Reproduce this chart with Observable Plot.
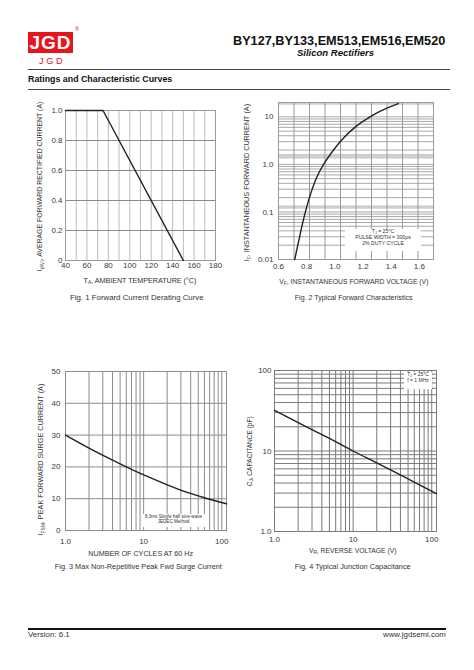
<!DOCTYPE html>
<html><head><meta charset="utf-8">
<script src="https://cdn.jsdelivr.net/npm/d3@7"></script>
<script src="https://cdn.jsdelivr.net/npm/@observablehq/plot@0.6"></script>
<style>
body{margin:0;background:#fff;font-family:"Liberation Sans",Arial,Helvetica,sans-serif;color:#222}
#page{position:relative;width:474px;height:670px;overflow:hidden;background:#fff}
.t{position:absolute;white-space:nowrap;line-height:1;color:#333}
.s{font-size:0.68em;vertical-align:-0.3em;line-height:0}
.box{position:absolute;background:#fff;text-align:center;color:#333;line-height:1.15}
.rule{position:absolute}
</style></head><body><div id="page"></div>
<script>
// ---- data ----
const fig1Temp = [40, 75, 150];
const fig1Current = [1.0, 1.0, 0];
const fig1XTicks = [40, 60, 80, 100, 120, 140, 160, 180];
const fig1YTicks = [0, 0.2, 0.4, 0.6, 0.8, 1.0];

const fig2Voltage = [0.715, 0.74, 0.77, 0.80, 0.83, 0.87, 0.92, 0.98, 1.05, 1.15, 1.25, 1.33, 1.45];
const fig2Current = [0.01, 0.022, 0.056, 0.126, 0.25, 0.525, 1.0, 1.82, 3.3, 6.3, 10, 13.5, 19];
const fig2XTicks = [0.6, 0.8, 1.0, 1.2, 1.4, 1.6];
const fig2YTicks = [0.01, 0.1, 1, 10];
const fig2Bands = [[17.5, 20], [1.29, 1.62], [0.114, 0.134]];

const fig3Cycles = [1, 2, 3.5, 7, 10, 18, 33, 60, 115];
const fig3Surge = [30, 25.9, 22.8, 19.2, 17.5, 14.8, 12.3, 10.3, 8.4];
const fig3XTicks = [1, 10, 100];
const fig3YTicks = [0, 10, 20, 30, 40, 50];

const fig4Voltage = [1, 2, 5, 10, 20, 50, 115];
const fig4Cap = [32, 22.5, 14.3, 10, 7.1, 4.5, 2.95];
const fig4XTicks = [1, 10, 100];
const fig4YTicks = [1, 10, 100];

// ---- helpers ----
const page = document.getElementById("page");
const FONT = '"Liberation Sans",Arial,Helvetica,sans-serif';
function logGrid(lo, hi) {
  const out = [];
  for (let p = Math.floor(Math.log10(lo)); p <= Math.ceil(Math.log10(hi)); p++)
    for (let m = 1; m < 10; m++) { const v = m * Math.pow(10, p); if (v >= lo * 0.999 && v <= hi * 1.001) out.push(v); }
  return out;
}
function text(html, cx, cy, width, opts = {}) {
  const el = document.createElement("div");
  el.className = "t";
  el.innerHTML = html;
  const fs = 10;
  el.style.fontSize = fs + "px";
  if (opts.bold) el.style.fontWeight = "bold";
  if (opts.italic) el.style.fontStyle = "italic";
  if (opts.color) el.style.color = opts.color;
  page.appendChild(el);
  const w0 = el.offsetWidth;
  el.style.fontSize = (fs * width / w0) + "px";
  const w = el.offsetWidth, h = el.offsetHeight;
  let left = cx - w / 2;
  if (opts.align === "left") left = cx;
  if (opts.align === "right") left = cx - w;
  el.style.left = left + "px";
  el.style.top = (cy - h / 2) + "px";
  if (opts.rotate) { el.style.left = (cx - w / 2) + "px"; el.style.transform = "rotate(-90deg)"; }
  return el;
}
function rule(x1, x2, y, th, color) {
  const d = document.createElement("div");
  d.className = "rule";
  Object.assign(d.style, {left: x1 + "px", top: (y - th / 2) + "px", width: (x2 - x1) + "px", height: th + "px", background: color});
  page.appendChild(d);
}
function place(svg, left, top) {
  svg.style.position = "absolute";
  svg.style.left = left + "px";
  svg.style.top = top + "px";
  page.appendChild(svg);
}
function box(lines, x, y, w, h, fs) {
  const d = document.createElement("div");
  d.className = "box";
  Object.assign(d.style, {left: x + "px", top: y + "px", width: w + "px", height: h + "px", fontSize: fs + "px"});
  d.innerHTML = lines.join("<br>");
  page.appendChild(d);
}
const baseStyle = {fontSize: "8px", fontFamily: FONT, color: "#3a3a3a", background: "transparent", overflow: "visible"};
const oneFmt = d => d === 1 ? "1.0" : String(d);

// ---- header ----
const logo = document.createElement("div");
Object.assign(logo.style, {position: "absolute", left: "28px", top: "32px", width: "45px", height: "21px", background: "#e8141c",
  color: "#fff", fontWeight: "bold", fontSize: "19px", lineHeight: "21px", textAlign: "center", letterSpacing: "1px", fontFamily: FONT});
logo.textContent = "JGD";
page.appendChild(logo);
text("J G D", 51, 61, 24, {color: "#e8141c"});
text("®", 77, 30, 4, {color: "#e8141c"});
text("BY127,BY133,EM513,EM516,EM520", 445, 41, 212, {bold: true, align: "right", color: "#111"});
text("Silicon Rectifiers", 335.5, 53, 77, {bold: true, italic: true, color: "#111"});
rule(28, 450, 69, 1, "#444");
text("Ratings and Characteristic Curves", 28, 79, 144, {bold: true, align: "left", color: "#111"});
rule(28, 450, 89, 1, "#444");

// ---- Fig 1 ----
const fig1 = fig1Temp.map((t, i) => ({t, i: fig1Current[i]}));
place(Plot.plot({
  width: 210, height: 185, marginLeft: 45, marginRight: 15, marginTop: 15, marginBottom: 20,
  style: baseStyle,
  x: {domain: [40, 180], ticks: fig1XTicks, tickSize: 0, tickPadding: 2, label: null},
  y: {domain: [0, 1], ticks: fig1YTicks, tickSize: 0, tickPadding: 3, label: null, tickFormat: d => d === 0 ? "0" : d.toFixed(1)},
  marks: [
    Plot.ruleX(d3.range(40, 181, 10), {stroke: "#bdbdbd", strokeWidth: 1}),
    Plot.ruleY(fig1YTicks, {stroke: "#8a8a8a", strokeWidth: 1}),
    Plot.frame({stroke: "#9a9a9a"}),
    Plot.line(fig1, {x: "t", y: "i", stroke: "#222", strokeWidth: 1.4})
  ]
}), 20, 95);
text("I<span class='s'>(AV)</span>, AVERAGE FORWARD RECTIFIED CURRENT (A)", 40.7, 186.7, 170, {rotate: true});
text("T<span class='s'>A</span>, AMBIENT TEMPERATURE (°C)", 140, 281.7, 113);
text("Fig. 1 Forward Current Derating Curve", 137, 297.7, 134);

// ---- Fig 2 ----
const fig2 = fig2Voltage.map((v, i) => ({v, c: fig2Current[i]}));
place(Plot.plot({
  width: 205, height: 184, marginLeft: 38, marginRight: 12, marginTop: 7, marginBottom: 20,
  style: baseStyle,
  x: {domain: [0.6, 1.7], ticks: fig2XTicks, tickSize: 0, tickPadding: 4, label: null, tickFormat: d => d.toFixed(1)},
  y: {type: "log", domain: [0.01, 20], ticks: fig2YTicks, tickSize: 0, tickPadding: 5, label: null, tickFormat: oneFmt},
  marks: [
    Plot.rect(fig2Bands, {x1: 0.6, x2: 1.7, y1: d => d[0], y2: d => d[1], fill: "#cfcfcf"}),
    Plot.ruleY(logGrid(0.01, 20), {stroke: "#a8a8a8", strokeWidth: 1}),
    Plot.ruleX(d3.range(0, 11).map(k => 0.6 + k * 0.11), {stroke: "#9a9a9a", strokeWidth: 1}),
    Plot.frame({stroke: "#9a9a9a"}),
    Plot.line(fig2, {x: "v", y: "c", stroke: "#222", strokeWidth: 1.4, curve: "catmull-rom"})
  ]
}), 240, 95);
box(["T<span class='s'>J</span> = 25°C", "PULSE WIDTH = 300μs", "2% DUTY CYCLE"], 345, 229, 76, 22, 5.2);
text("I<span class='s'>F</span>, INSTANTANEOUS FORWARD CURRENT (A)", 246.7, 182, 158, {rotate: true});
text("V<span class='s'>F</span>, INSTANTANEOUS FORWARD VOLTAGE (V)", 353.8, 282.7, 149);
text("Fig. 2 Typical Forward Characteristics", 353.8, 297.3, 118);

// ---- Fig 3 ----
const fig3 = fig3Cycles.map((n, i) => ({n, s: fig3Surge[i]}));
place(Plot.plot({
  width: 216, height: 190, marginLeft: 45, marginRight: 10, marginTop: 11, marginBottom: 20,
  style: baseStyle,
  x: {type: "log", domain: [1, 115], ticks: fig3XTicks, tickSize: 0, tickPadding: 8, label: null, tickFormat: oneFmt},
  y: {domain: [0, 50], ticks: fig3YTicks, tickSize: 0, tickPadding: 5, label: null},
  marks: [
    Plot.ruleX(logGrid(1, 115), {stroke: "#8c8c8c", strokeWidth: 1}),
    Plot.ruleY(fig3YTicks, {stroke: "#8c8c8c", strokeWidth: 1}),
    Plot.frame({stroke: "#8c8c8c"}),
    Plot.line(fig3, {x: "n", y: "s", stroke: "#222", strokeWidth: 1.4, curve: "catmull-rom"})
  ]
}), 20, 360);
box(["8.3ms Single half sine-wave", "JEDEC Method"], 141, 514, 65, 13, 4.6);
text("I<span class='s'>FSM</span>, PEAK FORWARD SURGE CURRENT (A)", 40.7, 459, 152, {rotate: true});
text("NUMBER OF CYCLES AT 60 Hz", 140.8, 553.3, 105);
text("Fig. 3  Max Non-Repetitive Peak Fwd Surge Current", 138.3, 566.7, 167);

// ---- Fig 4 ----
const fig4 = fig4Voltage.map((v, i) => ({v, c: fig4Cap[i]}));
place(Plot.plot({
  width: 206, height: 190, marginLeft: 34, marginRight: 10, marginTop: 10, marginBottom: 19,
  style: baseStyle,
  x: {type: "log", domain: [1, 115], ticks: fig4XTicks, tickSize: 0, tickPadding: 5, label: null, tickFormat: oneFmt},
  y: {type: "log", domain: [1, 100], ticks: fig4YTicks, tickSize: 0, tickPadding: 3, label: null, tickFormat: oneFmt},
  marks: [
    Plot.ruleX(logGrid(1, 115), {stroke: "#7a7a7a", strokeWidth: 1}),
    Plot.ruleY(logGrid(1, 100), {stroke: "#7a7a7a", strokeWidth: 1}),
    Plot.frame({stroke: "#7a7a7a"}),
    Plot.line(fig4, {x: "v", y: "c", stroke: "#222", strokeWidth: 1.4, curve: "catmull-rom"})
  ]
}), 240, 360);
box(["T<span class='s'>J</span> = 25°C", "f = 1 MHz"], 404, 372, 28, 17, 5);
text("C<span class='s'>J</span>, CAPACITANCE (pF)", 250, 451.7, 70, {rotate: true});
text("V<span class='s'>R</span>, REVERSE VOLTAGE (V)", 352.5, 551.7, 88);
text("Fig. 4 Typical Junction Capacitance", 352.8, 566.7, 116);

// ---- footer ----
rule(28, 446, 629, 1.5, "#111");
text("Version: 6.1", 28, 635, 42, {align: "left"});
text("www.jgdsemi.com", 446, 635, 63, {align: "right"});
</script></body></html>
